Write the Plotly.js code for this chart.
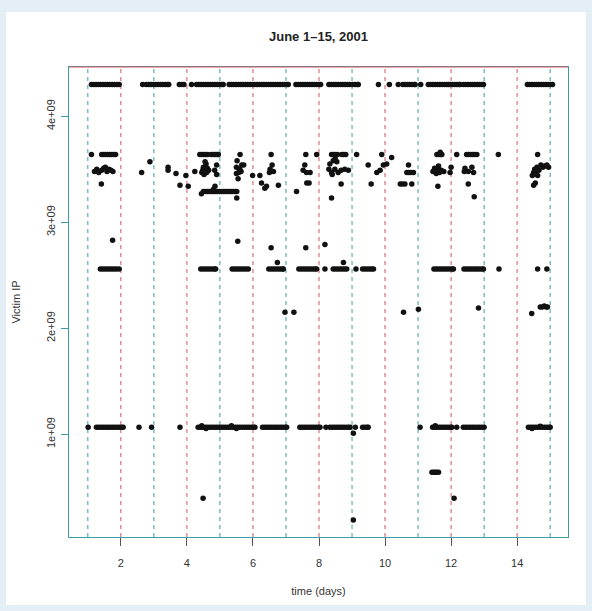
<!DOCTYPE html>
<html>
<head>
<meta charset="utf-8">
<script src="https://cdn.plot.ly/plotly-3.0.1.min.js"></script>
<style>
  html, body { margin: 0; padding: 0; background: #e4eef5; }
  #chart { position: absolute; left: 6px; top: 12px; width: 580px; height: 593px; background: #fff; }
</style>
</head>
<body>
<div id="chart"></div>
<script>
// Attack times (days into June 2001) for the victim addresses that recur on fixed levels.
const ipTop = 4.3e9;
const timesTop = [
  1.11,1.18,1.25,1.32,1.39,1.46,1.53,1.60,1.67,1.74,1.81,1.88,1.95,
  2.66,2.77,2.85,2.92,2.99,3.06,3.13,3.20,3.27,3.34,3.41,3.45,
  3.77,3.84,3.91,4.14,
  4.29,4.36,4.43,4.50,4.57,4.64,4.71,4.78,4.85,4.92,4.99,5.06,5.10,
  5.28,5.35,5.42,5.49,5.56,5.63,5.70,5.77,5.84,5.91,5.98,6.05,6.12,6.19,6.26,6.33,6.40,
  6.47,6.54,6.61,6.68,6.75,6.82,6.89,6.96,7.03,7.07,
  7.30,7.37,7.44,7.51,7.58,7.65,7.72,7.79,7.86,7.93,8.00,8.05,
  8.30,8.37,8.44,8.51,8.58,8.65,8.72,8.79,8.86,8.93,9.02,9.09,9.16,9.19,
  9.80,10.13,10.40,
  10.54,10.61,10.68,10.75,10.82,10.89,10.91,
  11.08,
  11.31,11.38,11.45,11.52,11.59,11.66,11.73,11.80,11.87,11.92,
  11.97,12.04,12.11,12.18,12.25,12.27,
  12.37,12.44,12.51,12.58,12.65,12.72,12.79,12.86,12.93,12.98,
  14.31,14.38,14.45,14.52,14.59,14.66,14.73,14.80,14.87,14.94,15.01,15.07
];

const ip364 = 3.64e9;
const times364 = [
  1.11,1.42,1.48,1.54,1.60,1.66,1.72,1.78,1.84,
  4.39,4.45,4.51,4.57,4.63,4.74,4.80,4.86,4.92,4.95,
  5.61,6.55,7.60,7.93,
  8.38,8.44,8.50,8.56,8.69,8.75,8.81,9.14,9.90,
  11.57,11.63,11.69,11.72,12.17,
  12.47,12.53,12.59,12.65,12.71,12.78,13.43,14.62
];

const ip256 = 2.56e9;
const times256 = [
  1.38,1.45,1.52,1.59,1.66,1.73,1.80,1.87,1.95,
  4.42,4.49,4.56,4.63,4.70,4.77,4.84,4.87,
  5.37,5.44,5.51,5.58,5.65,5.72,5.79,5.86,
  6.48,6.55,6.62,6.69,6.76,6.83,6.90,6.92,
  7.39,7.46,7.53,7.60,7.67,7.74,7.81,7.88,7.93,
  8.18,8.43,8.50,8.57,8.64,8.71,8.78,8.84,9.12,
  9.32,9.39,9.46,9.53,9.60,9.65,
  11.48,11.55,11.62,11.69,11.76,11.83,11.90,11.97,12.04,12.07,
  12.39,12.46,12.53,12.60,12.67,12.74,12.81,12.88,12.95,12.98,
  13.45,14.62,14.90
];

const ip107 = 1.066e9;
const times107 = [
  1.01,
  1.26,1.33,1.40,1.47,1.54,1.61,1.68,1.75,1.82,1.89,1.96,2.03,2.07,
  2.55,2.93,3.79,
  4.34,4.41,4.48,4.55,4.62,4.69,4.76,4.83,4.90,4.97,5.04,5.11,5.18,5.25,5.32,5.39,5.46,
  5.53,5.60,5.67,5.74,5.81,5.88,5.95,6.02,6.06,
  6.29,6.36,6.43,6.50,6.57,6.64,6.71,6.78,6.85,6.92,6.99,7.02,
  7.42,7.49,7.56,7.63,7.70,7.77,7.84,7.91,7.98,8.03,
  8.21,
  8.33,8.40,8.47,8.54,8.61,8.68,8.75,8.82,8.89,8.94,
  9.10,9.32,9.39,9.46,9.49,
  11.06,
  11.44,11.51,11.58,11.65,11.72,11.79,11.86,11.93,12.00,12.02,
  12.17,
  12.37,12.44,12.51,12.58,12.65,12.72,12.79,12.86,12.93,13.00,
  14.34,14.41,14.48,14.55,14.62,14.69,14.76,14.83,14.90,14.97,15.00
];

// Scattered victims (time, address) outside the recurring levels.
const otherTimes = [
  1.20,1.27,1.33,1.42,1.48,1.53,1.58,1.64,1.70,1.76,1.41,
  2.63,2.88,
  3.43,3.43,3.67,3.79,3.97,4.04,
  4.24,4.45,4.50,4.52,4.55,4.58,4.60,4.62,4.66,4.55,4.48,4.90,4.90,4.84,
  4.44,4.50,4.56,4.62,4.68,4.74,4.80,4.86,4.92,4.98,5.04,5.10,5.16,5.22,5.28,5.34,5.40,5.46,5.51,
  4.85,4.80,5.51,
  5.52,5.50,5.66,5.72,5.57,5.50,5.64,5.55,5.60,5.99,
  6.58,6.50,6.62,6.52,6.21,6.26,6.41,6.36,6.77,
  7.57,7.62,7.73,7.52,7.63,7.70,7.32,
  8.33,8.43,8.54,8.30,8.38,8.48,8.58,8.67,8.78,8.89,8.49,8.40,8.67,8.38,
  9.49,9.75,9.85,9.95,10.05,10.20,9.58,
  10.71,10.66,10.72,10.78,10.86,10.46,10.52,10.60,10.81,
  11.45,11.50,11.55,11.60,11.65,11.70,11.78,11.62,11.67,12.00,11.97,11.60,
  12.40,12.52,12.63,12.68,12.42,12.52,12.70,
  14.46,14.50,14.53,14.57,14.60,14.66,14.72,14.78,14.84,14.90,14.95,14.55,14.50,14.62,
  1.75,5.54,6.55,6.74,7.60,8.18,8.74,
  6.97,7.24,10.56,11.01,12.83,14.44,14.70,14.76,14.82,14.88,14.92,
  4.45,4.58,5.35,5.50,11.52,14.45,14.70,9.04,
  4.49,9.04,11.42,11.47,11.52,11.57,11.62,12.09
];
const otherIPs = [
  3.48e9,3.50e9,3.47e9,3.49e9,3.51e9,3.52e9,3.48e9,3.50e9,3.49e9,3.48e9,3.36e9,
  3.47e9,3.57e9,
  3.52e9,3.49e9,3.46e9,3.35e9,3.44e9,3.34e9,
  3.48e9,3.47e9,3.52e9,3.45e9,3.50e9,3.55e9,3.47e9,3.51e9,3.49e9,3.57e9,3.49e9,3.54e9,3.45e9,3.49e9,
  3.27e9,3.29e9,3.29e9,3.29e9,3.29e9,3.29e9,3.29e9,3.29e9,3.29e9,3.29e9,3.29e9,3.29e9,3.29e9,3.29e9,3.29e9,3.29e9,3.29e9,3.29e9,3.29e9,
  3.34e9,3.31e9,3.23e9,
  3.58e9,3.52e9,3.54e9,3.54e9,3.47e9,3.46e9,3.48e9,3.41e9,3.50e9,3.44e9,
  3.54e9,3.47e9,3.48e9,3.50e9,3.44e9,3.37e9,3.34e9,3.32e9,3.35e9,
  3.54e9,3.47e9,3.47e9,3.49e9,3.37e9,3.37e9,3.29e9,
  3.55e9,3.58e9,3.57e9,3.50e9,3.47e9,3.50e9,3.47e9,3.49e9,3.50e9,3.49e9,3.60e9,3.45e9,3.36e9,3.23e9,
  3.54e9,3.47e9,3.49e9,3.54e9,3.55e9,3.61e9,3.36e9,
  3.54e9,3.47e9,3.47e9,3.47e9,3.47e9,3.36e9,3.36e9,3.36e9,3.36e9,
  3.48e9,3.51e9,3.46e9,3.50e9,3.47e9,3.49e9,3.48e9,3.53e9,3.66e9,3.52e9,3.47e9,3.34e9,
  3.48e9,3.48e9,3.52e9,3.47e9,3.51e9,3.36e9,3.24e9,
  3.44e9,3.47e9,3.50e9,3.48e9,3.52e9,3.49e9,3.54e9,3.52e9,3.53e9,3.54e9,3.52e9,3.37e9,3.35e9,3.44e9,
  2.83e9,2.82e9,2.76e9,2.62e9,2.76e9,2.79e9,2.62e9,
  2.15e9,2.15e9,2.15e9,2.18e9,2.19e9,2.14e9,2.20e9,2.20e9,2.21e9,2.20e9,2.20e9,
  1.08e9,1.055e9,1.08e9,1.055e9,1.08e9,1.055e9,1.075e9,1.01e9,
  0.396e9,0.19e9,0.64e9,0.64e9,0.64e9,0.64e9,0.64e9,0.396e9
];

const dayBoundaries = [1,2,3,4,5,6,7,8,9,10,11,12,13,14,15];
const xTickVals = [2,4,6,8,10,12,14];
const yTickVals = [1e9,2e9,3e9,4e9];
const yTickText = ['1e+09','2e+09','3e+09','4e+09'];

const xs = [], ys = [];
[[timesTop, ipTop], [times364, ip364], [times256, ip256], [times107, ip107]].forEach(([ts, ip]) => {
  ts.forEach(t => { xs.push(t); ys.push(ip); });
});
otherTimes.forEach((t, i) => { xs.push(t); ys.push(otherIPs[i]); });

const teal = '#3a9ea6';
const red = '#d9535a';

const shapes = dayBoundaries.map((d, i) => ({
  type: 'line', xref: 'x', yref: 'paper', x0: d, x1: d, y0: 0, y1: 1,
  line: { color: i % 2 === 0 ? teal : red, width: 1, dash: '4px,4px' },
  layer: 'below'
}));
// top edge of the frame
shapes.push({ type: 'line', xref: 'paper', yref: 'paper', x0: 0, x1: 1, y0: 1, y1: 1,
  line: { color: red, width: 1.2 } });

const font = 'Liberation Sans, Arial, Helvetica, sans-serif';

Plotly.newPlot('chart', [{
  type: 'scatter', mode: 'markers', x: xs, y: ys,
  marker: { color: '#111', size: 5.5, line: { width: 0 } },
  hoverinfo: 'x+y', showlegend: false
}], {
  width: 580, height: 593,
  margin: { l: 63, r: 18, t: 55, b: 68 },
  paper_bgcolor: '#ffffff', plot_bgcolor: '#ffffff',
  font: { family: font, size: 11, color: '#333' },
  title: { text: '<b>June 1\u201315, 2001</b>', font: { family: font, size: 13, color: '#222' },
    xref: 'paper', x: 0.5, xanchor: 'center', yref: 'container', y: 0.958, yanchor: 'middle' },
  xaxis: {
    range: [0.43, 15.54], tickvals: xTickVals, ticks: 'outside', ticklen: 8, tickcolor: '#555',
    showgrid: false, zeroline: false, showline: true, linecolor: teal, linewidth: 1.2, mirror: true,
    ticklabelstandoff: 8,
    title: { text: 'time (days)', font: { size: 11, color: '#333' }, standoff: 18 }
  },
  yaxis: {
    range: [0.03e9, 4.465e9], tickvals: yTickVals, ticktext: yTickText, tickangle: -90,
    ticks: 'outside', ticklen: 7, tickcolor: teal, ticklabelstandoff: 1,
    showgrid: false, zeroline: false, showline: true, linecolor: teal, linewidth: 1.2, mirror: true,
    title: { text: 'Victim IP', font: { size: 11, color: '#333' }, standoff: 22 }
  },
  shapes: shapes
}, { displayModeBar: false, staticPlot: true });
</script>
</body>
</html>
